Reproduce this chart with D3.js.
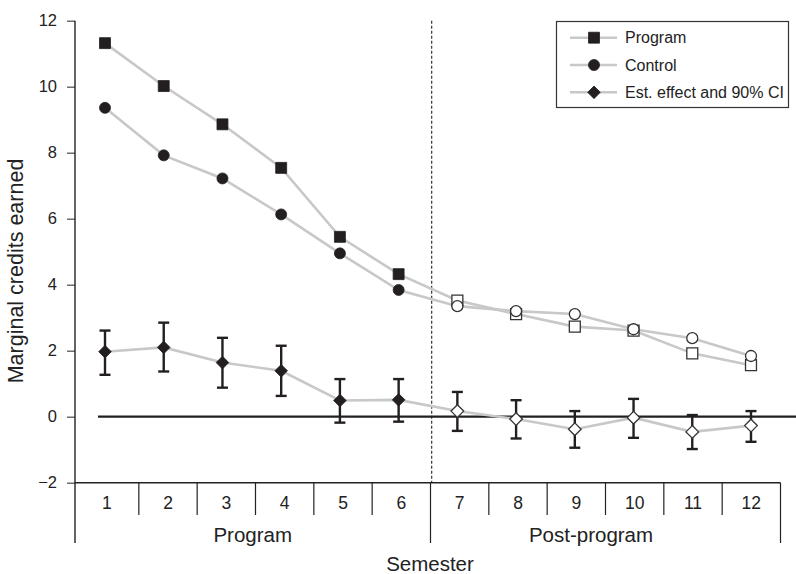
<!DOCTYPE html>
<html>
<head>
<meta charset="utf-8">
<script src="https://cdn.jsdelivr.net/npm/d3@7"></script>
<style>
  html, body { margin: 0; padding: 0; background: #fff; }
  svg { display: block; font-family: "Liberation Sans", Arial, Helvetica, sans-serif; }
</style>
</head>
<body>
<svg id="chart" width="796" height="574"></svg>
<script>
// ---------- data ----------
const semesters = [1, 2, 3, 4, 5, 6, 7, 8, 9, 10, 11, 12];
const programValues = [11.32, 10.02, 8.86, 7.54, 5.45, 4.32, 3.52, 3.11, 2.73, 2.61, 1.92, 1.56];
const controlValues = [9.36, 7.92, 7.22, 6.13, 4.95, 3.84, 3.35, 3.20, 3.11, 2.65, 2.38, 1.84];
const effectValues = [1.97, 2.10, 1.64, 1.39, 0.49, 0.51, 0.17, -0.07, -0.38, -0.03, -0.46, -0.27];
const ciLower = [1.27, 1.37, 0.88, 0.63, -0.18, -0.15, -0.43, -0.66, -0.94, -0.64, -0.98, -0.76];
const ciUpper = [2.61, 2.85, 2.39, 2.15, 1.14, 1.14, 0.75, 0.50, 0.17, 0.54, 0.05, 0.17];
const yTicks = [-2, 0, 2, 4, 6, 8, 10, 12];
const programSemesters = [1, 2, 3, 4, 5, 6];   // filled markers
const groupLabels = ["Program", "Post-program"];
const legendLabels = ["Program", "Control", "Est. effect and 90% CI"];
const yTitle = "Marginal credits earned";
const xTitle = "Semester";

// ---------- layout ----------
const svg = d3.select("#chart");
const axisX = 75;
const plotTop = 20.7, plotBottom = 482.7, bottomEnd = 543, cellEnd = 515;
const lineGray = "#c8c8c8", dark = "#231f20";

const y = d3.scaleLinear().domain([-2, 12]).range([plotBottom, plotTop]);
const x = d3.scaleLinear().domain([1, 12]).range([105, 751]);
const band = d3.scaleBand().domain(semesters).range([80.5, 780.5]).padding(0);
const isFilled = s => programSemesters.includes(s);

const rows = semesters.map((s, i) => ({
  s, prog: programValues[i], ctrl: controlValues[i],
  eff: effectValues[i], lo: ciLower[i], hi: ciUpper[i]
}));

// ---------- y axis ----------
const yAxis = d3.axisLeft(y).tickValues(yTicks).tickSize(8).tickPadding(10)
  .tickFormat(d => d < 0 ? "\u2212" + Math.abs(d) : String(d));
const gy = svg.append("g").attr("transform", `translate(${axisX},0)`).call(yAxis);
gy.select(".domain").remove();
gy.selectAll(".tick line").attr("stroke", "#555").attr("stroke-width", 1.3);
gy.selectAll(".tick text").attr("fill", "#222").style("font-size", "16.5px")
  .style("font-family", "'Liberation Sans', Arial, sans-serif");
svg.append("line").attr("x1", axisX).attr("x2", axisX)
  .attr("y1", plotTop).attr("y2", bottomEnd)
  .attr("stroke", "#222").attr("stroke-width", 1.4);

svg.append("text")
  .attr("transform", `translate(23,271) rotate(-90)`)
  .attr("text-anchor", "middle").attr("fill", "#222")
  .style("font-size", "21.5px").text(yTitle);

// ---------- categorical x axis ----------
const xRight = band.range()[1];
svg.append("line").attr("x1", axisX).attr("x2", xRight)
  .attr("y1", plotBottom).attr("y2", plotBottom)
  .attr("stroke", "#222").attr("stroke-width", 1.4);

// cell separators
semesters.slice(1).forEach(s => {
  const bx = band(s);
  const isGroup = s === 7;
  svg.append("line").attr("x1", bx).attr("x2", bx)
    .attr("y1", plotBottom).attr("y2", isGroup ? bottomEnd : cellEnd)
    .attr("stroke", "#222").attr("stroke-width", 1.2);
});
svg.append("line").attr("x1", xRight).attr("x2", xRight)
  .attr("y1", plotBottom).attr("y2", bottomEnd)
  .attr("stroke", "#222").attr("stroke-width", 1.2);

// category labels
semesters.forEach(s => {
  const left = s === 1 ? axisX : band(s);
  const right = band(s) + band.bandwidth();
  svg.append("text").attr("x", (left + right) / 2).attr("y", 508.5)
    .attr("text-anchor", "middle").attr("fill", "#222")
    .style("font-size", "17.5px").text(s);
});

// group labels
const splitX = band(7);
svg.append("text").attr("x", (axisX + splitX) / 2).attr("y", 542)
  .attr("text-anchor", "middle").attr("fill", "#222")
  .style("font-size", "20.5px").text(groupLabels[0]);
svg.append("text").attr("x", 591).attr("y", 542)
  .attr("text-anchor", "middle").attr("fill", "#222")
  .style("font-size", "20.5px").text(groupLabels[1]);
svg.append("text").attr("x", 430).attr("y", 571)
  .attr("text-anchor", "middle").attr("fill", "#222")
  .style("font-size", "20.5px").text(xTitle);

// dashed divider
svg.append("line").attr("x1", 431.7).attr("x2", 431.7)
  .attr("y1", plotTop).attr("y2", plotBottom)
  .attr("stroke", "#222").attr("stroke-width", 1.1)
  .attr("stroke-dasharray", "3,2");

// zero line
svg.append("line").attr("x1", 98).attr("x2", 796)
  .attr("y1", y(0)).attr("y2", y(0))
  .attr("stroke", dark).attr("stroke-width", 2.2);

// ---------- series lines ----------
const line = key => d3.line().x(d => x(d.s)).y(d => y(d[key]));
["prog", "ctrl", "eff"].forEach(k => {
  svg.append("path").datum(rows).attr("d", line(k))
    .attr("fill", "none").attr("stroke", lineGray).attr("stroke-width", 2.6);
});

// ---------- error bars ----------
const capW = 5.5;
const eb = svg.append("g").attr("stroke", dark).attr("stroke-width", 2.4);
rows.forEach(d => {
  eb.append("line").attr("x1", x(d.s)).attr("x2", x(d.s))
    .attr("y1", y(d.lo)).attr("y2", y(d.hi));
  eb.append("line").attr("x1", x(d.s) - capW).attr("x2", x(d.s) + capW)
    .attr("y1", y(d.lo)).attr("y2", y(d.lo));
  eb.append("line").attr("x1", x(d.s) - capW).attr("x2", x(d.s) + capW)
    .attr("y1", y(d.hi)).attr("y2", y(d.hi));
});

// ---------- markers ----------
const sqSym = d3.symbol().type(d3.symbolSquare).size(120)();
const ciSym = d3.symbol().type(d3.symbolCircle).size(95)();
// square diamond (rotated square)
const diamondType = { draw(ctx, size) { const r = Math.sqrt(size / 2);
  ctx.moveTo(0, -r); ctx.lineTo(r, 0); ctx.lineTo(0, r); ctx.lineTo(-r, 0); ctx.closePath(); } };
const diSym = d3.symbol().type(diamondType).size(80)();

function drawMarkers(path, key) {
  svg.append("g").selectAll("path").data(rows).join("path")
    .attr("d", path)
    .attr("transform", d => `translate(${x(d.s)},${y(d[key])})`)
    .attr("fill", d => isFilled(d.s) ? dark : "#fff")
    .attr("stroke", d => isFilled(d.s) ? dark : "#333")
    .attr("stroke-width", d => isFilled(d.s) ? 0.8 : 1.3);
}
drawMarkers(sqSym, "prog");
drawMarkers(ciSym, "ctrl");
drawMarkers(diSym, "eff");

// ---------- legend ----------
const lg = svg.append("g");
lg.append("rect").attr("x", 556.5).attr("y", 21.5).attr("width", 232).attr("height", 86)
  .attr("fill", "#fff").attr("stroke", "#333").attr("stroke-width", 1.2);
const legendRowsY = [37.7, 65, 92.3];
const legendSyms = [sqSym, ciSym, diSym];
legendLabels.forEach((lab, i) => {
  const ly = legendRowsY[i];
  lg.append("line").attr("x1", 570).attr("x2", 617).attr("y1", ly).attr("y2", ly)
    .attr("stroke", lineGray).attr("stroke-width", 2.6);
  lg.append("path").attr("d", legendSyms[i]).attr("transform", `translate(594,${ly})`)
    .attr("fill", dark).attr("stroke", dark).attr("stroke-width", 0.8);
  lg.append("text").attr("x", 625).attr("y", ly).attr("dy", "0.36em")
    .attr("fill", "#222").style("font-size", "16px").text(lab);
});
</script>
</body>
</html>
